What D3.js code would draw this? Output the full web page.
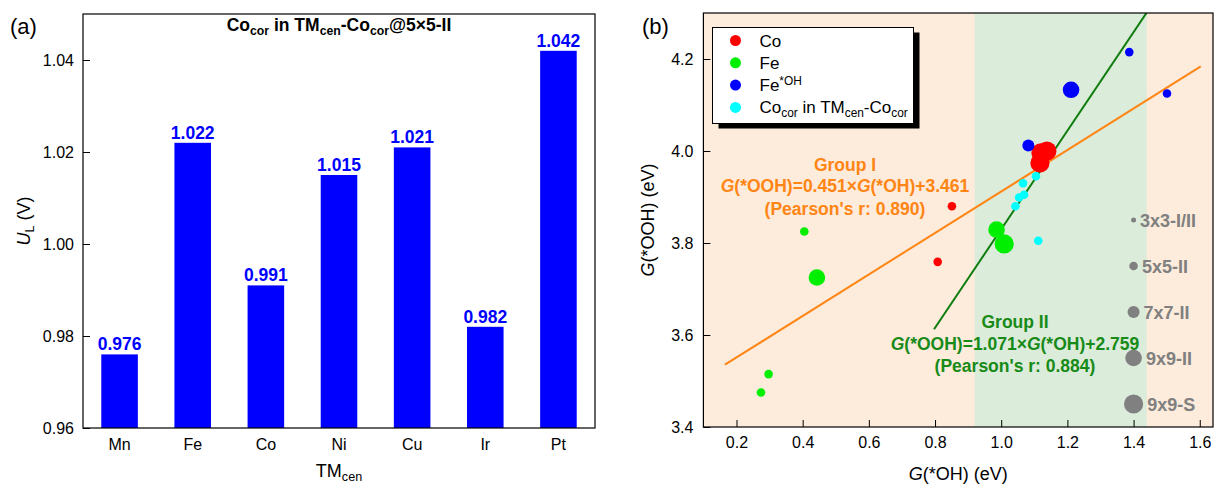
<!DOCTYPE html>
<html>
<head>
<meta charset="utf-8">
<script src="https://cdn.jsdelivr.net/npm/d3@7"></script>
<style>
  html, body { margin: 0; padding: 0; background: #fff; }
  svg { display: block; font-family: "Liberation Sans", Arial, sans-serif; }
</style>
</head>
<body>
<svg id="chart" width="1215" height="490"></svg>
<script>
// ---------- Panel (a) data ----------
const categories = ["Mn", "Fe", "Co", "Ni", "Cu", "Ir", "Pt"];
const ulValues = [0.976, 1.022, 0.991, 1.015, 1.021, 0.982, 1.042];
const ulTicks = [0.96, 0.98, 1.00, 1.02, 1.04];

// ---------- Panel (b) data ----------
const coOH   = [0.851, 0.808, 1.120, 1.138, 1.117];
const coOOH  = [3.880, 3.759, 3.996, 4.000, 3.974];
const coCell = ["5x5-II", "5x5-II", "9x9-S", "9x9-S", "9x9-S"];

const feOH   = [0.405, 0.443, 0.297, 0.274, 0.986, 1.009];
const feOOH  = [3.825, 3.725, 3.515, 3.475, 3.829, 3.798];
const feCell = ["5x5-II", "9x9-II", "5x5-II", "5x5-II", "9x9-II", "9x9-S"];

const feStarOH   = [1.082, 1.211, 1.387, 1.501];
const feStarOOH  = [4.012, 4.133, 4.215, 4.125];
const feStarCell = ["7x7-II", "9x9-II", "5x5-II", "5x5-II"];

const cocorOH   = [1.105, 1.066, 1.069, 1.054, 1.043, 1.112];
const cocorOOH  = [3.945, 3.930, 3.905, 3.899, 3.880, 3.805];
const cocorCell = ["5x5-II", "5x5-II", "5x5-II", "5x5-II", "5x5-II", "5x5-II"];

const cellLabels = ["3x3-I/II", "5x5-II", "7x7-II", "9x9-II", "9x9-S"];
const xTicksB = [0.2, 0.4, 0.6, 0.8, 1.0, 1.2, 1.4, 1.6];
const yTicksB = [3.4, 3.6, 3.8, 4.0, 4.2];

// Fits
const fit1 = { slope: 0.451, intercept: 3.461, r: 0.890, from: 0.165, to: 1.603 };
const fit2 = { slope: 1.071, intercept: 2.759, r: 0.884, from: 0.797, to: 1.439 };
const greenRegion = [0.92, 1.44];

const svg = d3.select("#chart");
const FONT = "'Liberation Sans', Arial, sans-serif";

function addSub(textSel, parts) {
  parts.forEach(([t, type]) => {
    const ts = textSel.append("tspan").text(t);
    if (type === "sub") ts.attr("font-size", "0.7em").attr("dy", "0.3em");
    else if (type === "sup") ts.attr("font-size", "0.7em").attr("dy", "-0.55em");
    else if (type === "i") ts.attr("font-style", "italic");
    if (type === "sub" || type === "sup") ts.attr("data-shift", type);
  });
  const spans = textSel.selectAll("tspan").nodes();
  for (let i = 1; i < spans.length; i++) {
    const prev = spans[i - 1].getAttribute("data-shift");
    if (prev === "sub") spans[i].setAttribute("dy", "-0.21em");
    if (prev === "sup") spans[i].setAttribute("dy", "0.385em");
  }
}

// ================= Panel (a) =================
const A = { left: 83, right: 595, top: 14, bottom: 428 };
const xA = d3.scaleBand().domain(categories).range([A.left, A.right]).paddingInner(0.5).paddingOuter(0.25);
const yA = d3.scaleLinear().domain([0.96, 1.05]).range([A.bottom, A.top]);

const gA = svg.append("g");
gA.selectAll("rect.bar").data(categories).join("rect")
  .attr("class", "bar")
  .attr("x", d => xA(d))
  .attr("width", xA.bandwidth())
  .attr("y", (d, i) => yA(ulValues[i]))
  .attr("height", (d, i) => yA(0.96) - yA(ulValues[i]))
  .attr("fill", "#0000ff");

gA.selectAll("text.val").data(categories).join("text")
  .attr("class", "val")
  .attr("x", d => xA(d) + xA.bandwidth() / 2)
  .attr("y", (d, i) => yA(ulValues[i]) - 4)
  .attr("text-anchor", "middle")
  .attr("font-size", 17.5).attr("font-weight", "bold").attr("fill", "#0000ff")
  .text((d, i) => d3.format(".3f")(ulValues[i]));

const axAL = gA.append("g").attr("transform", `translate(${A.left},0)`)
  .call(d3.axisLeft(yA).tickValues(ulTicks).tickFormat(d3.format(".2f")).tickSizeInner(-7).tickSizeOuter(0).tickPadding(9));
const axAB = gA.append("g").attr("transform", `translate(0,${A.bottom})`)
  .call(d3.axisBottom(xA).tickSize(0).tickPadding(11));
[axAL, axAB].forEach(g => {
  g.select(".domain").remove();
  g.selectAll("text").attr("font-size", 16).attr("font-family", FONT).attr("fill", "#000");
  g.selectAll("line").attr("stroke", "#000");
});
gA.append("rect").attr("x", A.left).attr("y", A.top).attr("width", A.right - A.left).attr("height", A.bottom - A.top)
  .attr("fill", "none").attr("stroke", "#000").attr("stroke-width", 1.2);

const tA = gA.append("text").attr("x", (A.left + A.right) / 2).attr("y", 31).attr("text-anchor", "middle")
  .attr("font-size", 17.5).attr("font-weight", "bold");
addSub(tA, [["Co", "n"], ["cor", "sub"], [" in TM", "n"], ["cen", "sub"], ["-Co", "n"], ["cor", "sub"], ["@5×5-II", "n"]]);

svg.append("text").attr("x", 10).attr("y", 34).attr("font-size", 22).text("(a)");

const yLabA = svg.append("text").attr("transform", `translate(30,${(A.top + A.bottom) / 2}) rotate(-90)`)
  .attr("text-anchor", "middle").attr("font-size", 18);
addSub(yLabA, [["U", "i"], ["L", "sub"], [" (V)", "n"]]);

const xLabA = svg.append("text").attr("x", (A.left + A.right) / 2).attr("y", 477).attr("text-anchor", "middle").attr("font-size", 18);
addSub(xLabA, [["TM", "n"], ["cen", "sub"]]);

// ================= Panel (b) =================
const B = { left: 703.4, right: 1213, top: 13, bottom: 427 };
const xB = d3.scaleLinear().domain([0.1, 1.64]).range([B.left, B.right]);
const yB = d3.scaleLinear().domain([3.4, 4.3]).range([B.bottom, B.top]);
const rScale = d3.scaleOrdinal().domain(cellLabels).range([2.5, 4.3, 6, 8.3, 9.6]);

const gB = svg.append("g");
const clip = svg.append("defs").append("clipPath").attr("id", "clipB");
clip.append("rect").attr("x", B.left).attr("y", B.top).attr("width", B.right - B.left).attr("height", B.bottom - B.top);

gB.append("rect").attr("x", B.left).attr("y", B.top).attr("width", B.right - B.left).attr("height", B.bottom - B.top)
  .attr("fill", "#fdebdb");
gB.append("rect").attr("x", xB(greenRegion[0])).attr("y", B.top)
  .attr("width", xB(greenRegion[1]) - xB(greenRegion[0])).attr("height", B.bottom - B.top)
  .attr("fill", "#dcecda");

const plotB = gB.append("g").attr("clip-path", "url(#clipB)");
const ORANGE = "#ff8514";
const DGREEN = "#0e7d0e";
const TGREEN = "#178a17";
[[fit1, ORANGE], [fit2, DGREEN]].forEach(([f, c]) => {
  plotB.append("line")
    .attr("x1", xB(f.from)).attr("y1", yB(f.slope * f.from + f.intercept))
    .attr("x2", xB(f.to)).attr("y2", yB(f.slope * f.to + f.intercept))
    .attr("stroke", c).attr("stroke-width", 2);
});

const seriesB = [
  { name: "Co", color: "#ff0000", xs: coOH, ys: coOOH, cells: coCell },
  { name: "Fe", color: "#00ee00", xs: feOH, ys: feOOH, cells: feCell },
  { name: "Fe*OH", color: "#0000ff", xs: feStarOH, ys: feStarOOH, cells: feStarCell },
  { name: "Cocor", color: "#00ffff", xs: cocorOH, ys: cocorOOH, cells: cocorCell }
];
seriesB.forEach(s => {
  plotB.append("g").selectAll("circle").data(s.xs).join("circle")
    .attr("cx", d => xB(d))
    .attr("cy", (d, i) => yB(s.ys[i]))
    .attr("r", (d, i) => rScale(s.cells[i]))
    .attr("fill", s.color);
});

// size legend
cellLabels.forEach((lab, i) => {
  const yv = 3.85 - 0.1 * i;
  const r = rScale(lab);
  gB.append("circle").attr("cx", xB(1.4)).attr("cy", yB(yv)).attr("r", r).attr("fill", "#808080");
  gB.append("text").attr("x", xB(1.4) + r + 4).attr("y", yB(yv) + 6.5)
    .attr("font-size", 18).attr("font-weight", "bold").attr("fill", "#808080").text(lab);
});

// annotations
const ANN = 17.5;
function eqText(g, x, y, color, f) {
  const t = g.append("text").attr("x", x).attr("y", y).attr("text-anchor", "middle")
    .attr("font-size", ANN).attr("font-weight", "bold").attr("fill", color);
  addSub(t, [["G", "i"], ["(*OOH)=" + f.slope.toFixed(3) + "×", "n"], ["G", "i"], ["(*OH)+" + f.intercept.toFixed(3), "n"]]);
}
const g1x = 845, g2x = 1015;
gB.append("text").attr("x", g1x).attr("y", 171).attr("text-anchor", "middle").attr("font-size", ANN)
  .attr("font-weight", "bold").attr("fill", ORANGE).text("Group I");
eqText(gB, g1x, 192, ORANGE, fit1);
gB.append("text").attr("x", g1x).attr("y", 215).attr("text-anchor", "middle").attr("font-size", ANN)
  .attr("font-weight", "bold").attr("fill", ORANGE).text("(Pearson's r: " + fit1.r.toFixed(3) + ")");

gB.append("text").attr("x", g2x).attr("y", 328).attr("text-anchor", "middle").attr("font-size", ANN)
  .attr("font-weight", "bold").attr("fill", TGREEN).text("Group II");
eqText(gB, g2x, 350, TGREEN, fit2);
gB.append("text").attr("x", g2x).attr("y", 372).attr("text-anchor", "middle").attr("font-size", ANN)
  .attr("font-weight", "bold").attr("fill", TGREEN).text("(Pearson's r: " + fit2.r.toFixed(3) + ")");

// legend box
const L = { x: 712.5, y: 27.5, w: 201, h: 96 };
gB.append("rect").attr("x", L.x + 6).attr("y", L.y + 5).attr("width", L.w).attr("height", L.h).attr("fill", "#000");
gB.append("rect").attr("x", L.x).attr("y", L.y).attr("width", L.w).attr("height", L.h)
  .attr("fill", "#fff").attr("stroke", "#000").attr("stroke-width", 1);
const legendRows = [
  [["Co", "n"]],
  [["Fe", "n"]],
  [["Fe", "n"], ["*OH", "sup"]],
  [["Co", "n"], ["cor", "sub"], [" in TM", "n"], ["cen", "sub"], ["-Co", "n"], ["cor", "sub"]]
];
seriesB.forEach((s, i) => {
  const cy = L.y + 13 + i * 22.3;
  gB.append("circle").attr("cx", L.x + 23).attr("cy", cy).attr("r", 5.5).attr("fill", s.color);
  const t = gB.append("text").attr("x", L.x + 47).attr("y", cy + 6).attr("font-size", 17);
  addSub(t, legendRows[i]);
});

// axes
const axBB = gB.append("g").attr("transform", `translate(0,${B.bottom})`)
  .call(d3.axisBottom(xB).tickValues(xTicksB).tickFormat(d3.format(".1f")).tickSizeInner(-7).tickSizeOuter(0).tickPadding(10));
const axBL = gB.append("g").attr("transform", `translate(${B.left},0)`)
  .call(d3.axisLeft(yB).tickValues(yTicksB).tickFormat(d3.format(".1f")).tickSizeInner(-7).tickSizeOuter(0).tickPadding(10));
[axBB, axBL].forEach(g => {
  g.select(".domain").remove();
  g.selectAll("text").attr("font-size", 16).attr("font-family", FONT).attr("fill", "#000");
  g.selectAll("line").attr("stroke", "#000");
});
gB.append("rect").attr("x", B.left).attr("y", B.top).attr("width", B.right - B.left).attr("height", B.bottom - B.top)
  .attr("fill", "none").attr("stroke", "#000").attr("stroke-width", 1.2);

svg.append("text").attr("x", 642).attr("y", 34).attr("font-size", 22).text("(b)");

const yLabB = svg.append("text").attr("transform", `translate(654,${(B.top + B.bottom) / 2}) rotate(-90)`)
  .attr("text-anchor", "middle").attr("font-size", 18);
addSub(yLabB, [["G", "i"], ["(*OOH) (eV)", "n"]]);
const xLabB = svg.append("text").attr("x", (B.left + B.right) / 2).attr("y", 480).attr("text-anchor", "middle").attr("font-size", 18);
addSub(xLabB, [["G", "i"], ["(*OH) (eV)", "n"]]);
</script>
</body>
</html>
